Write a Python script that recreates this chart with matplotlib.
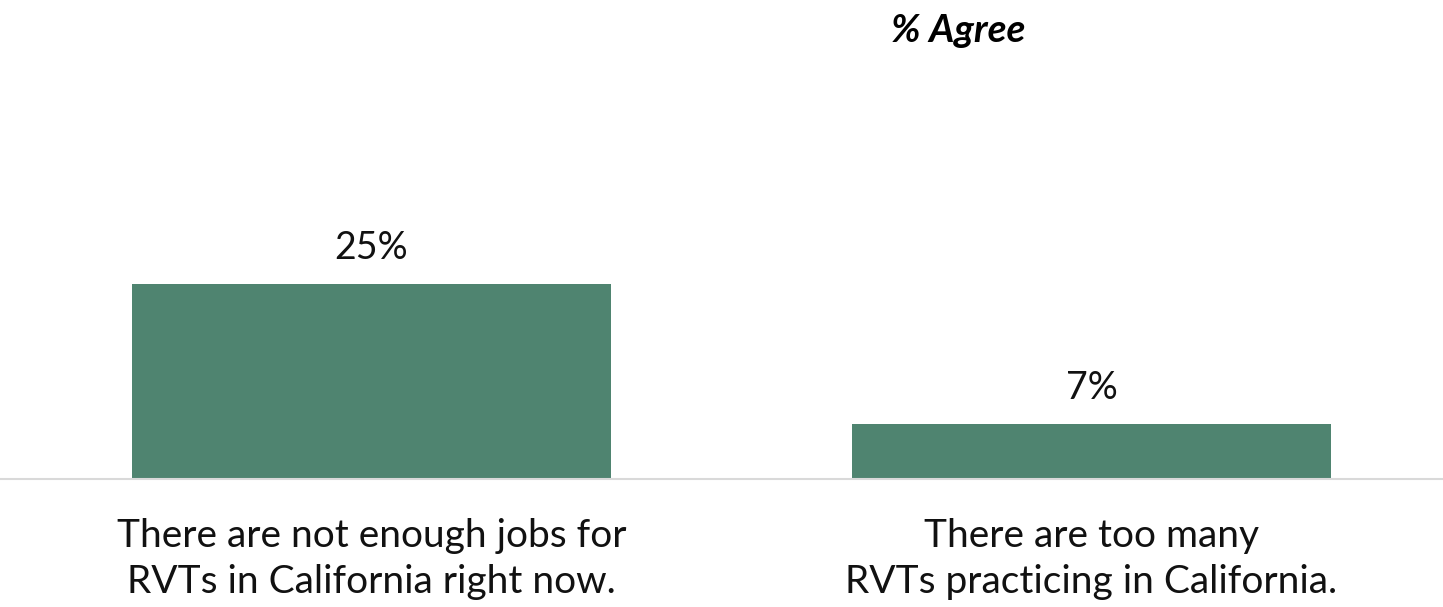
import matplotlib.pyplot as plt

categories = ["There are not enough jobs for\nRVTs in California right now.",
              "There are too many\nRVTs practicing in California."]
agree = [25, 7]
bar_labels = ["25%", "7%"]

plt.rcParams['font.family'] = ['Lato', 'DejaVu Sans']

fig = plt.figure(figsize=(14.43, 6.07), dpi=100)
ax = fig.add_axes([0, 128 / 607, 1, 479 / 607])

x = list(range(len(categories)))
bars = ax.bar(x, agree, width=0.665, color='#4F8470')
ax.bar_label(bars, labels=bar_labels, padding=13, fontsize=27, color='#111111')

ax.set_xlim(-371.5 / 720, (1443 - 371.5) / 720)
ax.set_ylim(0, 61.5)
ax.set_xticks(x)
ax.set_xticklabels(categories, fontsize=28, linespacing=1.36, color='#111111')
ax.tick_params(axis='x', length=0, pad=28)
ax.set_yticks([])

for side in ['top', 'right', 'left']:
    ax.spines[side].set_visible(False)
ax.spines['bottom'].set_color('#D9D9D9')
ax.spines['bottom'].set_linewidth(1.5)

fig.text(958 / 1443, 1 - 30 / 607, "% Agree", ha='center', va='center',
         fontsize=28, fontweight='bold', fontstyle='italic')

fig.savefig('out.png', dpi=100)
